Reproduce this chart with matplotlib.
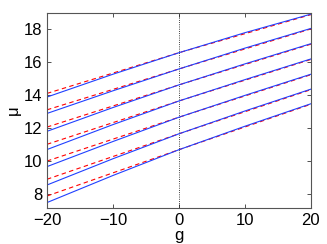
import numpy as np
import matplotlib
matplotlib.use("Agg")
import matplotlib.pyplot as plt

plt.rcParams['font.family'] = ['Liberation Sans', 'DejaVu Sans']

# coupling values where curves were read
g_exact = [-20, -10, 0, 10, 20]
g_approx = [-20, 0, 20]

# exact (blue, solid), one list per level, bottom to top
mu_exact = [
    [7.45, 9.10, 10.67, 12.10, 13.47],
    [8.52, 10.12, 11.64, 13.03, 14.36],
    [9.64, 11.17, 12.65, 13.98, 15.27],
    [10.68, 12.20, 13.64, 14.94, 16.20],
    [11.79, 13.24, 14.62, 15.90, 17.13],
    [12.88, 14.26, 15.59, 16.86, 18.06],
    [13.88, 15.27, 16.58, 17.80, 18.93],
]

# approximation (red, dashed)
mu_approx = [
    [7.85, 10.67, 13.44],
    [8.87, 11.64, 14.33],
    [9.98, 12.65, 15.24],
    [11.00, 13.64, 16.17],
    [12.05, 14.62, 17.10],
    [13.10, 15.59, 18.03],
    [14.10, 16.58, 18.90],
]

fig = plt.figure(figsize=(3.27, 2.44), dpi=100)
ax = fig.add_axes([0.1437, 0.1463, 0.807, 0.8004])

ax.axvline(0, color='k', ls=':', lw=0.6)
for row in mu_approx:
    ax.plot(g_approx, row, 'r--', lw=0.8, dashes=(4, 3))
for row in mu_exact:
    ax.plot(g_exact, row, color='#2040ff', lw=0.8)

ax.set_xlim(-20, 20)
ax.set_ylim(7.1, 19)
ax.set_xticks([-20, -10, 0, 10, 20])
ax.set_yticks([8, 10, 12, 14, 16, 18])
ax.tick_params(direction='in', top=True, right=True, length=3, width=0.6,
               labelsize=12, colors='#333333', labelcolor='k')
for s in ax.spines.values():
    s.set_color('#555555')
    s.set_linewidth(0.8)

ax.set_xlabel('g', fontsize=12, labelpad=0)
ax.set_ylabel('μ', fontsize=12, labelpad=2)

fig.savefig('out.png', dpi=100)
